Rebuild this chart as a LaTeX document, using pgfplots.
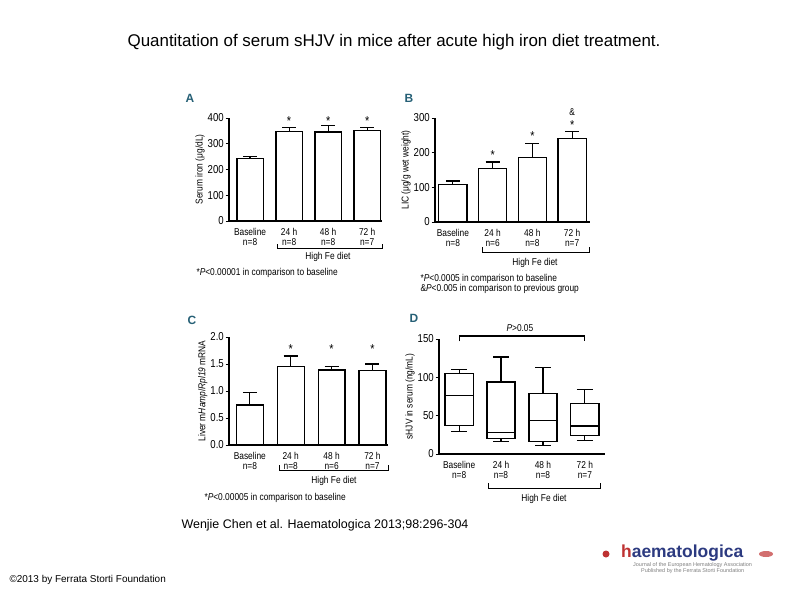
\documentclass[border=0pt]{standalone}
\usepackage{fontspec}
\setmainfont{Liberation Sans}
\newfontfamily\nar[FakeStretch=0.84]{Liberation Sans}
\usepackage{pgfplots}
\pgfplotsset{compat=1.18}
\usepgfplotslibrary{statistics}
\definecolor{panelteal}{RGB}{38,96,118}
\definecolor{logoblue}{RGB}{44,58,128}
\definecolor{logored}{RGB}{190,50,50}
\newcommand\tickf{\nar\fontsize{10}{10.5}\selectfont}
\newcommand\numf{\nar\fontsize{11.5}{12}\selectfont}
\newcommand\labf{\nar\fontsize{10}{11}\selectfont}
\newcommand\notef{\nar\fontsize{10}{11}\selectfont}
\newcommand\starf{\nar\fontsize{13}{13}\selectfont}

\pgfplotsset{
  panel/.style={
    scale only axis, anchor=south west,
    axis x line*=bottom, axis y line*=left,
    axis line style={-, line width=1.2bp},
    enlargelimits=false, clip=false, ymin=0,
    tick align=outside, major tick length=3.5bp,
    tick style={black, line width=1bp},
    xtick={0,1,2,3}, xtick style={draw=none},
    xticklabel style={font=\tickf, align=center},
    yticklabel style={font=\numf, inner xsep=1.5bp},
    ylabel style={font=\labf, yshift=-2bp},
    /pgf/number format/assume math mode=true,
  },
  bars/.style={
    fill=white, draw=black, line width=1.2bp,
    error bars/y dir=plus, error bars/y explicit,
    error bars/error bar style={line width=1.2bp},
    error bars/error mark options={rotate=90, mark size=7bp, line width=1.2bp},
  },
  bxp/.style={black, line width=1.2bp, solid},
}

\begin{document}
\begin{tikzpicture}
\fill[white] (0,0) rectangle (794bp,-595bp);

% titles and credits
\node[font=\fontsize{17}{18}\selectfont] at (394bp,-42bp)
  {Quantitation of serum sHJV in mice after acute high iron diet treatment.};
\node[font=\fontsize{12.5}{14}\selectfont] at (325bp,-525bp)
  {Wenjie Chen et al. Haematologica 2013;98:296-304};
\node[anchor=west, font=\fontsize{10}{11}\selectfont] at (6bp,-580bp)
  {\textcopyright 2013 by Ferrata Storti Foundation};

% panel A
\begin{axis}[panel, ybar, at={(229bp,-221bp)}, width=153bp, height=103bp,
  xmin=-0.54, xmax=3.38, ymax=400, ytick={0,100,...,400},
  xticklabels={{Baseline\\n=8},{24 h\\n=8},{48 h\\n=8},{72 h\\n=7}},
  ylabel={Serum iron (μg/dL)}]
\addplot[bar width=0.67, bars] coordinates {
  (0,243) +- (0,9)
  (1,348) +- (0,14)
  (2,346) +- (0,26)
  (3,350) +- (0,12)
};
\node[font=\starf] at (axis cs:1,390) {*};
\node[font=\starf] at (axis cs:2,390) {*};
\node[font=\starf] at (axis cs:3,390) {*};
\end{axis}

% panel B
\begin{axis}[panel, ybar, at={(435bp,-222bp)}, width=155bp, height=104bp,
  xmin=-0.45, xmax=3.45, ymax=300, ytick={0,100,200,300},
  xticklabels={{Baseline\\n=8},{24 h\\n=6},{48 h\\n=8},{72 h\\n=7}},
  ylabel={LIC (μg/g wet weight)}]
\addplot[bar width=0.71, bars] coordinates {
  (0,108) +- (0,10)
  (1,155) +- (0,18)
  (2,185) +- (0,41)
  (3,242) +- (0,19)
};
\node[font=\starf] at (axis cs:1,192) {*};
\node[font=\starf] at (axis cs:2,247) {*};
\node[font=\starf] at (axis cs:3,281) {*};
\node[font=\tickf] at (axis cs:3,316) {\&};
\end{axis}

% panel C
\begin{axis}[panel, ybar, at={(229bp,-445bp)}, width=159bp, height=108bp,
  xmin=-0.51, xmax=3.38, ymax=2, ytick={0,0.5,...,2},
  yticklabel style={/pgf/number format/.cd, fixed, fixed zerofill, precision=1},
  xticklabels={{Baseline\\n=8},{24 h\\n=8},{48 h\\n=6},{72 h\\n=7}},
  ylabel={Liver m\textit{Hamp}/\textit{Rpl19} mRNA}]
\addplot[bar width=0.66, bars] coordinates {
  (0,0.74) +- (0,0.23)
  (1,1.45) +- (0,0.20)
  (2,1.39) +- (0,0.07)
  (3,1.38) +- (0,0.12)
};
\node[font=\starf] at (axis cs:1,1.78) {*};
\node[font=\starf] at (axis cs:2,1.78) {*};
\node[font=\starf] at (axis cs:3,1.78) {*};
\end{axis}

% panel D
\begin{axis}[panel, at={(439bp,-454bp)}, width=166bp, height=115bp,
  xmin=-0.48, xmax=3.48, ymax=150, ytick={0,50,100,150},
  xticklabels={{Baseline\\n=8},{24 h\\n=8},{48 h\\n=8},{72 h\\n=7}},
  ylabel={sHJV in serum (ng/mL)},
  boxplot/draw direction=y,
  boxplot/box extend=0.67, boxplot/whisker extend=0.38]
\addplot[bxp, boxplot prepared={draw position=0, lower whisker=29,
  lower quartile=37, median=76, upper quartile=105, upper whisker=110}]
  coordinates {};
\addplot[bxp, boxplot prepared={draw position=1, lower whisker=16,
  lower quartile=20.5, median=28, upper quartile=94, upper whisker=126.5}]
  coordinates {};
\addplot[bxp, boxplot prepared={draw position=2, lower whisker=11,
  lower quartile=16.6, median=43.6, upper quartile=79.4, upper whisker=113}]
  coordinates {};
\addplot[bxp, boxplot prepared={draw position=3, lower whisker=18,
  lower quartile=24.4, median=36.6, upper quartile=65.4, upper whisker=84.6}]
  coordinates {};
\draw[line width=1.2bp] (axis cs:0,147) -- (axis cs:0,154) -- (axis cs:3,154) -- (axis cs:3,147);
\node[font=\labf] at (axis cs:1.45,164) {\textit{P}>0.05};
\end{axis}

% diet brackets and footnotes
\begin{scope}[line width=1bp]
\draw (277bp,-244bp) -- (277bp,-248bp) -- (382bp,-248bp) -- (382bp,-244bp);
\draw (482bp,-247bp) -- (482bp,-252bp) -- (589bp,-252bp) -- (589bp,-247bp);
\draw (279bp,-465bp) -- (279bp,-470bp) -- (388bp,-470bp) -- (388bp,-465bp);
\draw (488bp,-483bp) -- (488bp,-488bp) -- (600bp,-488bp) -- (600bp,-483bp);
\end{scope}
\node[font=\notef] at (328bp,-257bp) {High Fe diet};
\node[font=\notef] at (535bp,-263bp) {High Fe diet};
\node[font=\notef] at (334bp,-481bp) {High Fe diet};
\node[font=\notef] at (544bp,-499bp) {High Fe diet};
\node[anchor=west, font=\notef] at (193bp,-273bp) {*\textit{P}<0.00001 in comparison to baseline};
\node[anchor=west, font=\notef] at (417bp,-279bp) {*\textit{P}<0.0005 in comparison to baseline};
\node[anchor=west, font=\notef] at (417bp,-289bp) {\&\textit{P}<0.005 in comparison to previous group};
\node[anchor=west, font=\notef] at (201bp,-498bp) {*\textit{P}<0.00005 in comparison to baseline};

% panel letters
\begin{scope}[font=\fontsize{12}{12}\selectfont\bfseries, text=panelteal]
\node at (190bp,-98bp) {A};
\node at (409bp,-98bp) {B};
\node at (192bp,-320bp) {C};
\node at (414bp,-318bp) {D};
\end{scope}

% journal logo
\fill[logored] (606bp,-554bp) circle (3.5bp);
\node[anchor=west, inner sep=0, font=\fontsize{17.5}{18}\selectfont\bfseries, text=logoblue]
  at (621bp,-553bp) {{\color{logored}h}aematologica};
\node[anchor=west, inner sep=0, align=left, font=\fontsize{5.5}{6.5}\selectfont, text=gray]
  at (633bp,-568bp) {Journal of the European Hematology Association\\
  \hspace*{8bp}Published by the Ferrata Storti Foundation};
\fill[logored!70] (766bp,-554bp) ellipse (7bp and 3bp);
\end{tikzpicture}
\end{document}
